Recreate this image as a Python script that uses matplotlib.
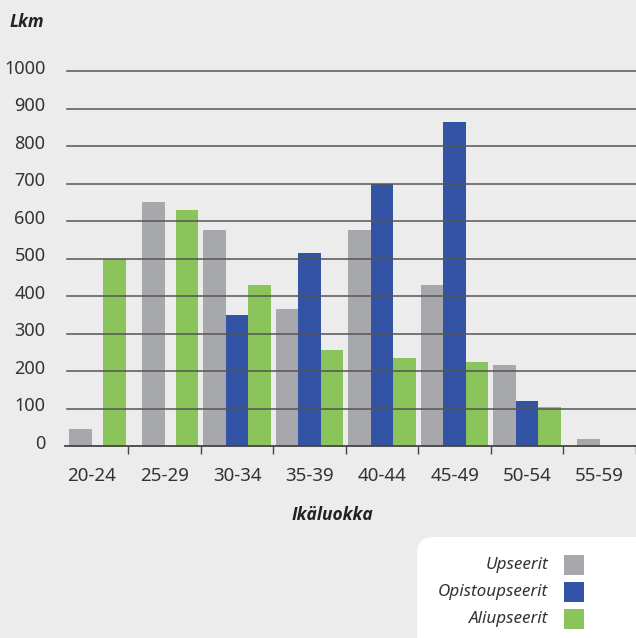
import matplotlib.pyplot as plt
import numpy as np
from matplotlib.patches import FancyBboxPatch, Rectangle
from matplotlib.transforms import ScaledTranslation

plt.rcParams['font.family'] = ['Noto Sans', 'DejaVu Sans']

age_groups = ['20-24', '25-29', '30-34', '35-39', '40-44', '45-49', '50-54', '55-59']
upseerit = [45, 650, 575, 365, 575, 430, 215, 20]
opistoupseerit = [0, 0, 350, 515, 700, 865, 120, 0]
aliupseerit = [500, 630, 430, 255, 235, 225, 105, 0]
series_names = ['Upseerit', 'Opistoupseerit', 'Aliupseerit']
colors = ['#a7a8ab', '#3353a5', '#8bc45a']
bg = '#ebeceb'
text_col = '#333333'
grid_col = '#555555'

fig = plt.figure(figsize=(6.36, 6.38), dpi=100, facecolor=bg)
ax = fig.add_axes([65 / 636, 1 - 446 / 638, 571 / 636, 375 / 638])
ax.set_facecolor(bg)

data = np.array([upseerit, opistoupseerit, aliupseerit], dtype=float)
w = 0.31
for j in range(len(age_groups)):
    # grey sits closer to the centre when the blue bar is missing
    offs = [-w if data[1, j] > 0 else -0.5 * w, 0, w]
    for i in range(3):
        if data[i, j] > 0:
            ax.bar(j + offs[i], data[i, j], width=w, color=colors[i], zorder=2)

ax.set_xlim(-0.372, 7.5)
ax.set_ylim(0, 1000)

# gridlines on top of bars
for y in range(100, 1001, 100):
    ax.axhline(y, xmin=2 / 571, xmax=1, color=grid_col, lw=1.1, zorder=3, clip_on=False)

for s in ['top', 'right', 'left']:
    ax.spines[s].set_visible(False)
ax.spines['bottom'].set_color('#444444')
ax.spines['bottom'].set_linewidth(1.3)
ax.spines['bottom'].set_zorder(4)

ax.set_yticks(range(0, 1001, 100))
ax.tick_params(axis='y', length=0, pad=14, labelsize=13, labelcolor=text_col)
for lab in ax.get_yticklabels():
    lab.set_transform(lab.get_transform() + ScaledTranslation(0, 3 / 72, fig.dpi_scale_trans))

x = np.arange(len(age_groups))
ax.set_xticks(x + 0.5)
ax.set_xticklabels([])
ax.tick_params(axis='x', which='major', length=6, width=1, color='#444444', direction='out')
ax.set_xticks(x, minor=True)
ax.set_xticklabels(age_groups, minor=True)
ax.tick_params(axis='x', which='minor', length=0, pad=15, labelsize=13.5, labelcolor=text_col)

bold_font = ['Open Sans', 'DejaVu Sans']
fig.text(10 / 636, 1 - 22 / 638, 'Lkm', fontsize=12.5, fontweight='bold', fontstyle='italic',
         family=bold_font, color='#222222', va='center', ha='left')
fig.text(332 / 636, 1 - 515 / 638, 'Ikäluokka', fontsize=12.5, fontweight='bold', fontstyle='italic',
         family=bold_font, color='#222222', va='center', ha='center')

# legend box
box = FancyBboxPatch((417 / 636, -0.05), 0.4, (638 - 537) / 638 + 0.05,
                     boxstyle='round,pad=0,rounding_size=0.025', transform=fig.transFigure,
                     facecolor='white', edgecolor='none')
fig.patches.append(box)
for k, (name, col) in enumerate(zip(series_names, colors)):
    yc = 565 + k * 27
    fig.text(548 / 636, 1 - yc / 638, name, fontsize=12.3, fontstyle='italic', color=text_col,
             ha='right', va='center')
    fig.patches.append(Rectangle((564 / 636, 1 - (yc + 10) / 638), 20 / 636, 20 / 638,
                                 transform=fig.transFigure, facecolor=col, edgecolor='none'))

fig.savefig('out.png', dpi=100, facecolor=bg)
